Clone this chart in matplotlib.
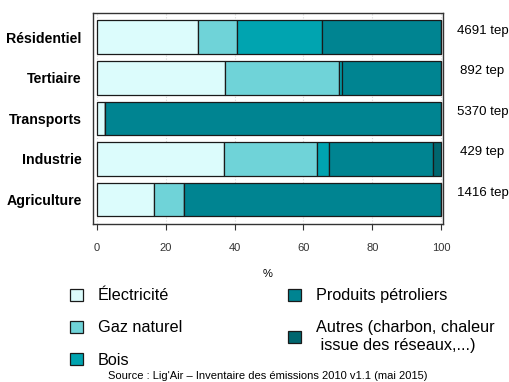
"""Structure de la consommation d'énergie finale par secteur (2010)."""

import matplotlib

matplotlib.use("Agg")
import matplotlib.pyplot as plt
from matplotlib.patches import Patch

plt.rcParams["font.family"] = ["Liberation Sans", "DejaVu Sans"]

# secteurs, de haut en bas
SECTORS = ["Résidentiel", "Tertiaire", "Transports", "Industrie", "Agriculture"]
TOTALS = ["4691 tep", "892 tep", "5370 tep", "429 tep", "1416 tep"]

# parts (%) par type d'énergie, même ordre que SECTORS
ELECTRICITE = [29.5, 37.3, 2.4, 36.9, 16.6]
GAZ_NATUREL = [11.2, 33.0, 0.0, 27.1, 8.8]
BOIS = [24.8, 0.8, 0.0, 3.4, 0.0]
PETROLIERS = [34.5, 28.9, 97.6, 30.2, 74.6]
AUTRES = [0.0, 0.0, 0.0, 2.4, 0.0]

ENERGIES = [
    ("Électricité", ELECTRICITE, "#dcfcfc"),
    ("Gaz naturel", GAZ_NATUREL, "#6fd3d8"),
    ("Bois", BOIS, "#00a4b0"),
    ("Produits pétroliers", PETROLIERS, "#008491"),
    ("Autres (charbon, chaleur\n issue des réseaux,...)", AUTRES, "#00666f"),
]

fig = plt.figure(figsize=(5.10, 3.82), dpi=100)
ax = fig.add_axes([0.182, 0.414, 0.687, 0.552])

ypos = list(range(len(SECTORS)))
left = [0.0] * len(SECTORS)
for label, values, color in ENERGIES:
    ax.barh(ypos, values, left=left, height=0.83, color=color,
            edgecolor="#1a1a1a", linewidth=0.9, zorder=2)
    left = [l + v for l, v in zip(left, values)]

ax.set_xlim(-1.2, 100.6)
ax.set_ylim(4.6, -0.6)
ax.set_xticks([0, 20, 40, 60, 80, 100])
ax.tick_params(axis="x", labelsize=8, length=4, width=0.8,
               colors="#333333", pad=10)
ax.set_yticks(ypos)
ax.set_yticklabels(SECTORS, fontsize=10.2, fontweight="bold")
ax.tick_params(axis="y", length=0, pad=8)
ax.grid(axis="x", color="#d8d8d8", linestyle=":", linewidth=0.8, zorder=0)
for spine in ax.spines.values():
    spine.set_color("#333333")
    spine.set_linewidth(1.0)
ax.set_xlabel("%", fontsize=8, labelpad=11)

for y, total in zip(ypos, TOTALS):
    ax.text(1.112, y - 0.16, total, transform=ax.get_yaxis_transform(),
            ha="center", va="center", fontsize=9.5)

handles = [Patch(facecolor=c, edgecolor="#1a1a1a", linewidth=0.9)
           for _, _, c in ENERGIES]
labels = [lab for lab, _, _ in ENERGIES]

leg_kw = dict(frameon=False, fontsize=11.7, handlelength=0.8,
              handleheight=0.8, handletextpad=0.9, labelspacing=1.05,
              borderaxespad=0, borderpad=0)
fig.legend(handles[:3], labels[:3], loc="upper left",
           bbox_to_anchor=(0.138, 0.245), **leg_kw)
fig.legend(handles[3:], labels[3:], loc="upper left",
           bbox_to_anchor=(0.565, 0.245), **leg_kw)

fig.text(0.525, 0.016,
         "Source : Lig'Air \u2013 Inventaire des émissions 2010 v1.1 (mai 2015)",
         ha="center", va="center", fontsize=8.0)

fig.savefig("out.png", dpi=100)
